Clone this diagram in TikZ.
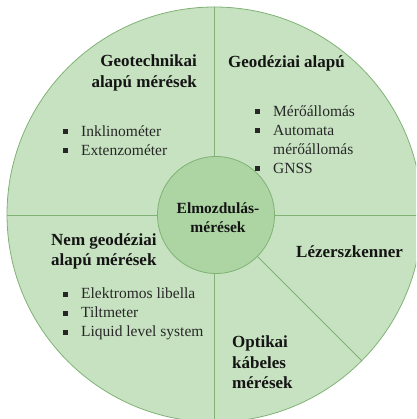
\documentclass[tikz,border=0pt]{standalone}
\usepackage{fontspec}
\setmainfont{Liberation Serif}
\definecolor{outerfill}{RGB}{199,226,193}
\definecolor{innerfill}{RGB}{172,213,163}
\definecolor{linegreen}{RGB}{128,178,118}
\definecolor{txt}{RGB}{20,20,20}
\newcommand{\bul}{\makebox[18pt][l]{\raisebox{2.2pt}{\rule{5pt}{5pt}}}}
\begin{document}
\begin{tikzpicture}[x=1pt,y=-1pt,
  head/.style={inner sep=0pt, text=txt, font=\fontsize{17}{20.5}\selectfont\bfseries},
  items/.style={inner sep=0pt, text=txt!92, align=left, font=\fontsize{15.5}{19}\selectfont},
  divider/.style={draw=linegreen, line width=0.8pt}]
\useasboundingbox (0,0) rectangle (416,419);
\clip (0,0) rectangle (416,419);
\coordinate (oc) at (214.5,214.5);
\coordinate (ic) at (216,215);
\fill[outerfill] (oc) circle (207.5);
\begin{scope}
  \clip (oc) circle (207.5);
  \draw[divider] (214.3,0) -- (214.3,430);
  \draw[divider] (0,215) -- (430,215);
  \draw[divider] (ic) -- ++(160,160);
\end{scope}
\draw[linegreen, line width=0.8pt] (oc) circle (207.5);
\node[circle, minimum size=117pt, inner sep=0pt, fill=innerfill, draw=linegreen, line width=0.8pt] (center) at (ic) {};
\node[head, align=center, font=\fontsize{15.5}{19}\selectfont\bfseries] (title) at (218,217.5) {Elmozdulás-\\mérések};

\node[head, align=right, anchor=east] (geotech) at (197,73) {Geotechnikai\\alapú mérések};
\node[items, anchor=west] (geotechitems) at (63,140.5) {\bul Inklinométer\\\bul Extenzométer};

\node[head, anchor=west] (geod) at (228,63) {Geodéziai alapú};
\node[items, anchor=west] (geoditems) at (255,139.5) {\bul Mérőállomás\\\bul Automata\\\hspace{18pt}mérőállomás\\\bul GNSS};

\node[head, align=left, anchor=west] (nemgeod) at (51,251.5) {Nem geodéziai\\alapú mérések};
\node[items, anchor=west] (nemitems) at (63,314) {\bul Elektromos libella\\\bul Tiltmeter\\\bul Liquid level system};

\node[head, anchor=west] (lezer) at (296,252) {Lézerszkenner};
\node[head, align=left, anchor=west] (optikai) at (232,362.5) {Optikai\\kábeles\\mérések};
\end{tikzpicture}
\end{document}
